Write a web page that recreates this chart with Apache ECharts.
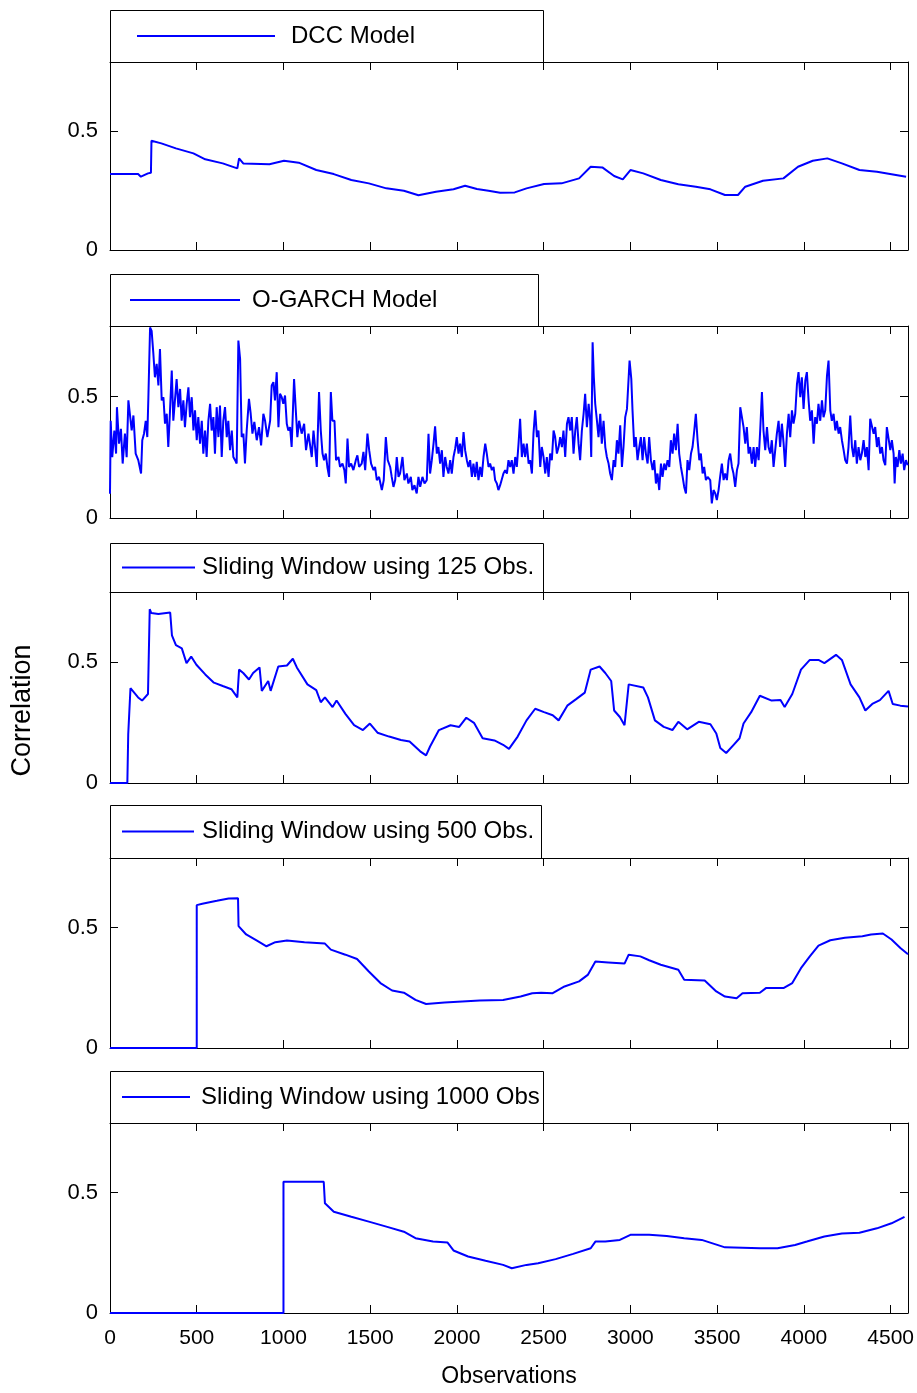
<!DOCTYPE html>
<html><head><meta charset="utf-8">
<script src="https://cdn.jsdelivr.net/npm/echarts@6/dist/echarts.min.js"></script>
<style>html,body{margin:0;padding:0;background:#fff}#c{width:917px;height:1393px}</style>
</head><body><div id="c"></div><script>
// ---------------- DATA ----------------
const seriesNames = ['DCC Model', 'O-GARCH Model', 'Sliding Window using 125 Obs.', 'Sliding Window using 500 Obs.', 'Sliding Window using 1000 Obs'];
const xTickLabels = [0, 500, 1000, 1500, 2000, 2500, 3000, 3500, 4000, 4500];
const yTickLabels = [0, 0.5];
const xMax = 4600, yMax = 0.79;

const dcc = [[0,0.319],[162,0.319],[178,0.308],[219,0.322],[236,0.325],[239,0.459],[296,0.448],[380,0.427],[481,0.406],[549,0.381],[650,0.364],[734,0.343],[744,0.385],[768,0.364],[919,0.36],[1003,0.375],[1088,0.367],[1189,0.336],[1290,0.319],[1391,0.294],[1492,0.28],[1593,0.259],[1694,0.249],[1778,0.23],[1879,0.245],[1980,0.255],[2047,0.27],[2115,0.256],[2182,0.249],[2249,0.241],[2333,0.242],[2401,0.259],[2502,0.277],[2603,0.28],[2704,0.301],[2771,0.35],[2838,0.347],[2906,0.311],[2956,0.297],[3000,0.336],[3074,0.322],[3175,0.294],[3276,0.276],[3377,0.266],[3461,0.255],[3545,0.231],[3620,0.231],[3662,0.266],[3764,0.291],[3882,0.301],[3966,0.35],[4051,0.375],[4135,0.385],[4219,0.364],[4320,0.336],[4421,0.329],[4589,0.308]];

const ogarchA = [[0,0.10],[4,0.40],[13,0.25],[25,0.36],[35,0.265],[40,0.456],[52,0.306],[63,0.367],[73,0.224],[86,0.347],[96,0.25],[106,0.484],[115,0.49],[125,0.36],[135,0.422],[148,0.265],[163,0.238],[179,0.183],[186,0.32],[196,0.347],[206,0.40],[215,0.333],[221,0.49],[231,0.784],[240,0.77],[250,0.675],[259,0.579],[269,0.634],[279,0.545],[288,0.695],[298,0.484],[308,0.497],[317,0.388],[327,0.429],[336,0.292],[346,0.443],[356,0.607],[365,0.40],[375,0.49],[384,0.572],[394,0.456],[404,0.531],[413,0.40],[423,0.484],[432,0.374],[442,0.47],[452,0.538],[461,0.415],[471,0.497],[481,0.36],[490,0.443],[500,0.32],[509,0.415],[519,0.306],[529,0.40],[538,0.265],[548,0.36],[557,0.251],[567,0.40],[577,0.47],[586,0.36],[596,0.415],[605,0.265],[615,0.456],[625,0.333],[634,0.463],[644,0.251],[653,0.40],[663,0.456],[673,0.333],[682,0.40],[692,0.279],[702,0.36],[711,0.251],[721,0.238],[730,0.224],[740,0.73],[750,0.654],[759,0.333],[769,0.347],[778,0.224],[788,0.36],[801,0.49],[811,0.429],[821,0.347],[832,0.395],[846,0.32],[859,0.374],[871,0.299],[884,0.429],[894,0.40],[907,0.333],[923,0.40],[932,0.545],[942,0.559],[951,0.484],[961,0.60],[971,0.374],[980,0.511],[990,0.497],[999,0.47],[1009,0.504],[1019,0.388],[1028,0.36],[1038,0.374],[1047,0.292],[1061,0.572],[1071,0.443],[1080,0.333],[1090,0.40],[1105,0.347],[1119,0.388],[1130,0.279],[1144,0.347]];
const ogarchB = [[1153,0.34],[1163,0.251],[1173,0.36],[1182,0.292],[1192,0.21],[1205,0.518],[1215,0.36],[1225,0.265],[1234,0.238],[1244,0.265],[1253,0.21],[1263,0.169],[1273,0.518],[1282,0.40],[1294,0.40],[1303,0.238],[1317,0.251],[1326,0.21],[1340,0.224],[1351,0.197],[1359,0.142],[1369,0.327],[1378,0.21],[1390,0.224],[1403,0.197],[1417,0.238],[1426,0.258],[1436,0.21],[1451,0.224],[1461,0.272],[1471,0.197],[1484,0.347],[1494,0.279],[1505,0.224],[1519,0.197],[1528,0.21],[1538,0.156],[1551,0.169],[1567,0.115],[1578,0.156],[1590,0.333],[1601,0.238],[1615,0.21],[1624,0.169],[1634,0.128],[1644,0.156],[1653,0.251],[1663,0.169],[1672,0.183],[1686,0.251],[1697,0.156],[1711,0.183],[1720,0.142],[1734,0.169],[1743,0.115],[1755,0.135],[1768,0.101],[1778,0.169],[1788,0.128],[1801,0.169],[1813,0.142],[1826,0.156],[1836,0.347],[1845,0.183],[1855,0.238],[1865,0.306],[1874,0.377],[1884,0.265],[1893,0.292],[1903,0.224],[1913,0.279],[1922,0.169],[1932,0.251],[1941,0.21],[1951,0.183],[1961,0.238],[1970,0.183],[1980,0.251],[1990,0.286],[1999,0.333],[2009,0.265],[2018,0.306],[2028,0.251],[2038,0.354],[2047,0.279],[2057,0.238],[2066,0.21],[2076,0.238],[2086,0.169],[2095,0.224],[2105,0.169],[2114,0.231],[2124,0.156],[2134,0.21],[2143,0.169],[2153,0.251],[2163,0.306],[2172,0.265],[2182,0.21],[2191,0.224],[2201,0.197],[2211,0.21],[2220,0.156],[2230,0.142],[2239,0.115],[2249,0.135],[2259,0.128],[2268,0.183],[2278,0.197],[2288,0.183],[2297,0.238]];
const ogarchC = [[2307,0.21],[2316,0.238],[2326,0.183],[2336,0.251],[2345,0.21],[2355,0.306],[2364,0.408],[2374,0.251],[2384,0.306],[2393,0.251],[2403,0.306],[2413,0.224],[2422,0.238],[2432,0.183],[2441,0.347],[2451,0.443],[2461,0.333],[2470,0.36],[2480,0.21],[2489,0.292],[2499,0.251],[2509,0.183],[2518,0.251],[2528,0.169],[2537,0.265],[2547,0.238],[2557,0.36],[2566,0.333],[2576,0.265],[2586,0.292],[2595,0.333],[2605,0.292],[2614,0.36],[2624,0.251],[2634,0.388],[2643,0.415],[2653,0.36],[2662,0.415],[2672,0.265],[2682,0.36],[2691,0.415],[2701,0.306],[2710,0.238],[2720,0.36],[2730,0.429],[2739,0.511],[2749,0.374],[2759,0.47],[2768,0.40],[2774,0.251],[2782,0.723],[2789,0.579],[2797,0.47],[2807,0.40],[2816,0.333],[2826,0.429],[2835,0.306],[2845,0.40],[2855,0.292],[2864,0.251],[2874,0.224],[2883,0.183],[2893,0.156],[2903,0.238],[2912,0.21],[2922,0.32],[2931,0.265],[2941,0.381],[2951,0.21],[2960,0.292],[2970,0.415],[2980,0.449],[2989,0.443],[2995,0.648],[3005,0.572],[3012,0.443],[3022,0.292],[3031,0.333],[3041,0.238],[3051,0.292],[3060,0.333],[3070,0.238],[3079,0.333],[3089,0.265],[3099,0.224],[3108,0.333],[3118,0.238],[3128,0.197],[3137,0.238],[3147,0.142],[3156,0.183],[3166,0.115],[3176,0.224],[3185,0.169],[3195,0.224],[3204,0.197],[3214,0.238],[3224,0.21],[3233,0.32],[3243,0.265],[3252,0.347],[3262,0.279],[3272,0.388],[3281,0.265],[3291,0.21],[3301,0.169],[3310,0.128],[3320,0.101],[3329,0.238],[3339,0.197],[3349,0.265],[3358,0.292],[3368,0.36],[3377,0.429],[3387,0.32],[3397,0.238],[3406,0.265],[3416,0.183],[3425,0.21],[3435,0.156],[3445,0.169]];
const ogarchD = [[3460,0.156],[3469,0.06],[3479,0.115],[3489,0.101],[3498,0.074],[3508,0.115],[3517,0.169],[3527,0.224],[3537,0.156],[3546,0.183],[3556,0.156],[3566,0.238],[3575,0.265],[3585,0.21],[3594,0.183],[3604,0.128],[3614,0.197],[3623,0.224],[3633,0.456],[3642,0.463],[3652,0.374],[3662,0.306],[3671,0.374],[3681,0.265],[3690,0.292],[3700,0.224],[3710,0.292],[3719,0.21],[3729,0.292],[3739,0.238],[3748,0.36],[3758,0.518],[3767,0.36],[3777,0.279],[3787,0.374],[3796,0.292],[3806,0.265],[3815,0.32],[3825,0.21],[3835,0.204],[3844,0.347],[3854,0.40],[3863,0.292],[3873,0.388],[3883,0.306],[3892,0.21],[3902,0.347],[3912,0.429],[3921,0.333],[3931,0.443],[3940,0.388],[3950,0.429],[3960,0.552],[3969,0.60],[3979,0.497],[3988,0.579],[3998,0.449],[4008,0.566],[4017,0.60],[4027,0.484],[4036,0.40],[4046,0.443],[4056,0.306],[4065,0.415],[4075,0.388],[4084,0.47],[4094,0.40],[4104,0.484],[4113,0.415],[4123,0.443],[4133,0.586],[4142,0.648],[4152,0.443],[4161,0.40],[4171,0.429],[4181,0.36],[4190,0.40],[4200,0.347],[4209,0.374],[4219,0.32],[4229,0.279],[4238,0.238],[4248,0.224],[4257,0.292],[4267,0.422],[4277,0.292],[4286,0.251],[4296,0.32],[4305,0.224],[4315,0.292],[4325,0.238],[4334,0.265],[4344,0.32],[4354,0.251],[4363,0.292],[4373,0.197],[4382,0.408],[4392,0.40],[4402,0.347],[4411,0.374],[4421,0.292],[4430,0.333],[4440,0.265],[4450,0.292],[4459,0.238],[4469,0.217],[4478,0.374],[4488,0.381],[4498,0.279],[4507,0.32],[4517,0.265],[4523,0.142],[4530,0.251],[4540,0.21],[4550,0.279],[4559,0.224],[4569,0.265],[4578,0.197],[4588,0.238],[4598,0.217]];

const sw125 = [[0,0],[100,0],[105,0.2],[118,0.392],[162,0.354],[185,0.341],[219,0.368],[229,0.719],[238,0.703],[279,0.699],[347,0.705],[357,0.611],[380,0.57],[414,0.557],[441,0.496],[468,0.523],[498,0.489],[549,0.449],[599,0.415],[650,0.401],[700,0.388],[734,0.354],[744,0.469],[768,0.455],[801,0.428],[825,0.455],[862,0.478],[875,0.381],[912,0.422],[926,0.381],[970,0.482],[1020,0.486],[1054,0.514],[1077,0.478],[1138,0.408],[1189,0.384],[1215,0.334],[1239,0.354],[1283,0.314],[1306,0.341],[1357,0.286],[1407,0.239],[1458,0.219],[1498,0.246],[1542,0.208],[1609,0.192],[1677,0.178],[1727,0.172],[1788,0.131],[1822,0.114],[1845,0.151],[1896,0.219],[1963,0.239],[2013,0.232],[2054,0.27],[2098,0.249],[2148,0.185],[2216,0.176],[2266,0.158],[2300,0.141],[2350,0.192],[2401,0.259],[2451,0.307],[2502,0.293],[2552,0.28],[2586,0.259],[2636,0.32],[2687,0.347],[2737,0.374],[2771,0.469],[2822,0.482],[2855,0.455],[2889,0.422],[2906,0.3],[2939,0.273],[2966,0.239],[2990,0.408],[3074,0.395],[3101,0.354],[3141,0.259],[3192,0.232],[3242,0.219],[3276,0.253],[3327,0.222],[3394,0.253],[3461,0.243],[3495,0.205],[3518,0.145],[3552,0.124],[3595,0.158],[3629,0.185],[3652,0.246],[3696,0.293],[3746,0.361],[3814,0.341],[3865,0.343],[3889,0.314],[3933,0.368],[3983,0.469],[4034,0.509],[4084,0.509],[4118,0.496],[4185,0.53],[4219,0.509],[4269,0.408],[4320,0.354],[4354,0.3],[4394,0.327],[4438,0.343],[4488,0.381],[4512,0.327],[4556,0.32],[4600,0.316]];

const sw500 = [[0,0],[500,0],[500,0.594],[532,0.60],[616,0.612],[684,0.622],[738,0.623],[741,0.507],[785,0.472],[852,0.444],[902,0.423],[953,0.44],[1020,0.447],[1121,0.44],[1239,0.434],[1273,0.409],[1357,0.388],[1424,0.37],[1492,0.318],[1559,0.27],[1626,0.239],[1694,0.23],[1761,0.2],[1822,0.183],[1929,0.189],[2030,0.193],[2131,0.197],[2266,0.2],[2367,0.214],[2434,0.228],[2485,0.23],[2552,0.228],[2620,0.256],[2704,0.277],[2754,0.304],[2798,0.36],[2872,0.356],[2966,0.351],[2990,0.388],[3057,0.381],[3108,0.365],[3175,0.346],[3276,0.325],[3310,0.284],[3428,0.281],[3495,0.235],[3545,0.214],[3612,0.207],[3646,0.228],[3746,0.23],[3781,0.249],[3882,0.249],[3933,0.27],[3983,0.332],[4034,0.381],[4084,0.426],[4152,0.448],[4236,0.458],[4337,0.465],[4387,0.472],[4455,0.476],[4505,0.451],[4556,0.416],[4600,0.39]];

const sw1000 = [[0,0],[1000,0],[1000,0.546],[1232,0.546],[1239,0.456],[1290,0.421],[1391,0.4],[1492,0.38],[1593,0.359],[1694,0.338],[1761,0.311],[1862,0.297],[1946,0.293],[1980,0.26],[2064,0.235],[2165,0.217],[2266,0.2],[2316,0.186],[2401,0.2],[2468,0.207],[2569,0.224],[2670,0.246],[2771,0.269],[2798,0.297],[2855,0.297],[2939,0.304],[3000,0.325],[3108,0.325],[3209,0.32],[3310,0.311],[3411,0.304],[3545,0.273],[3748,0.269],[3848,0.269],[3949,0.283],[4017,0.297],[4118,0.318],[4219,0.331],[4320,0.334],[4421,0.352],[4505,0.373],[4580,0.40]];

const ogarch = ogarchA.concat(ogarchB, ogarchC, ogarchD);
const seriesData = [dcc, ogarch, sw125, sw500, sw1000];

// ---------------- LAYOUT ----------------
const FONT = "'Liberation Sans',Arial,sans-serif";
const BLUE = '#0000ff';
const layout = [
  {top: 62,  height: 188, boxTop: 10,  boxW: 433, lineX: 137, lineX2: 275, textX: 291},
  {top: 326, height: 192, boxTop: 274, boxW: 428, lineX: 130, lineX2: 240, textX: 252},
  {top: 592, height: 191, boxTop: 543, boxW: 433, lineX: 122, lineX2: 195, textX: 202},
  {top: 858, height: 190, boxTop: 805, boxW: 431, lineX: 122, lineX2: 194, textX: 202},
  {top: 1123, height: 190, boxTop: 1071, boxW: 433, lineX: 122, lineX2: 190, textX: 201}
];
const LEFT = 110, WIDTH = 798;

const grids = [], xAxes = [], yAxes = [], series = [], legends = [], graphics = [];
const mkLine = () => ({show: true, onZero: false, lineStyle: {color: '#000', width: 1}});
const mkTick = () => ({show: true, inside: true, length: 8, lineStyle: {color: '#000', width: 1}});

layout.forEach((L, i) => {
  grids.push({left: LEFT, width: WIDTH, top: L.top, height: L.height, show: false});
  const last = i === layout.length - 1;
  xAxes.push({
    gridIndex: i, type: 'value', position: 'bottom', min: 0, max: xMax, interval: 500,
    axisLine: mkLine(), axisTick: mkTick(), splitLine: {show: false},
    axisLabel: {show: last, showMaxLabel: false, margin: 15, color: '#000', fontSize: 21, fontFamily: FONT,
      formatter: v => xTickLabels.includes(v) ? String(v) : ''},
    name: last ? 'Observations' : '', nameLocation: 'middle', nameGap: 52,
    nameTextStyle: {color: '#000', fontSize: 23, fontFamily: FONT}
  });
  xAxes.push({
    gridIndex: i, type: 'value', position: 'top', min: 0, max: xMax, interval: 500,
    axisLine: mkLine(), axisTick: mkTick(), splitLine: {show: false}, axisLabel: {show: false}
  });
  yAxes.push({
    gridIndex: i, type: 'value', position: 'left', min: 0, max: yMax, interval: 0.5,
    axisLine: mkLine(), axisTick: mkTick(), splitLine: {show: false},
    axisLabel: {showMaxLabel: false, margin: 12, color: '#000', fontSize: 22, fontFamily: FONT,
      formatter: v => yTickLabels.includes(v) ? String(v) : ''},
    name: i === 2 ? 'Correlation' : '', nameLocation: 'middle', nameGap: 74,
    nameTextStyle: {color: '#000', fontSize: 27, fontFamily: FONT, padding: [0, 46, 0, 0]}
  });
  yAxes.push({
    gridIndex: i, type: 'value', position: 'right', min: 0, max: yMax, interval: 0.5,
    axisLine: mkLine(), axisTick: mkTick(), splitLine: {show: false}, axisLabel: {show: false}
  });
  series.push({
    name: seriesNames[i], type: 'line', xAxisIndex: 2 * i, yAxisIndex: 2 * i,
    data: seriesData[i], symbol: 'none', showSymbol: false, animation: false,
    lineStyle: {color: BLUE, width: 2}, itemStyle: {color: BLUE}, z: 3
  });
  const lineY = L.boxTop + (L.top - L.boxTop) / 2;
  legends.push({
    data: [{name: seriesNames[i], icon: 'rect'}], left: L.lineX, top: lineY - 14, padding: 0,
    itemWidth: L.lineX2 - L.lineX, itemHeight: 2, selectedMode: false,
    itemStyle: {color: BLUE, borderWidth: 0},
    textStyle: {color: '#000', fontSize: 24, fontFamily: FONT, lineHeight: 28, height: 28,
      padding: [0, 0, 0, L.textX - L.lineX2 - 5]}
  });
  graphics.push({
    type: 'rect', z: -1, shape: {x: LEFT + 0.5, y: L.boxTop + 0.5, width: L.boxW, height: L.top - L.boxTop},
    style: {fill: '#fff', stroke: '#000', lineWidth: 1}
  });
});

const chart = echarts.init(document.getElementById('c'), null, {renderer: 'canvas'});
chart.setOption({
  backgroundColor: '#fff', animation: false,
  grid: grids, xAxis: xAxes, yAxis: yAxes, series, legend: legends, graphic: graphics
});
</script></body></html>
